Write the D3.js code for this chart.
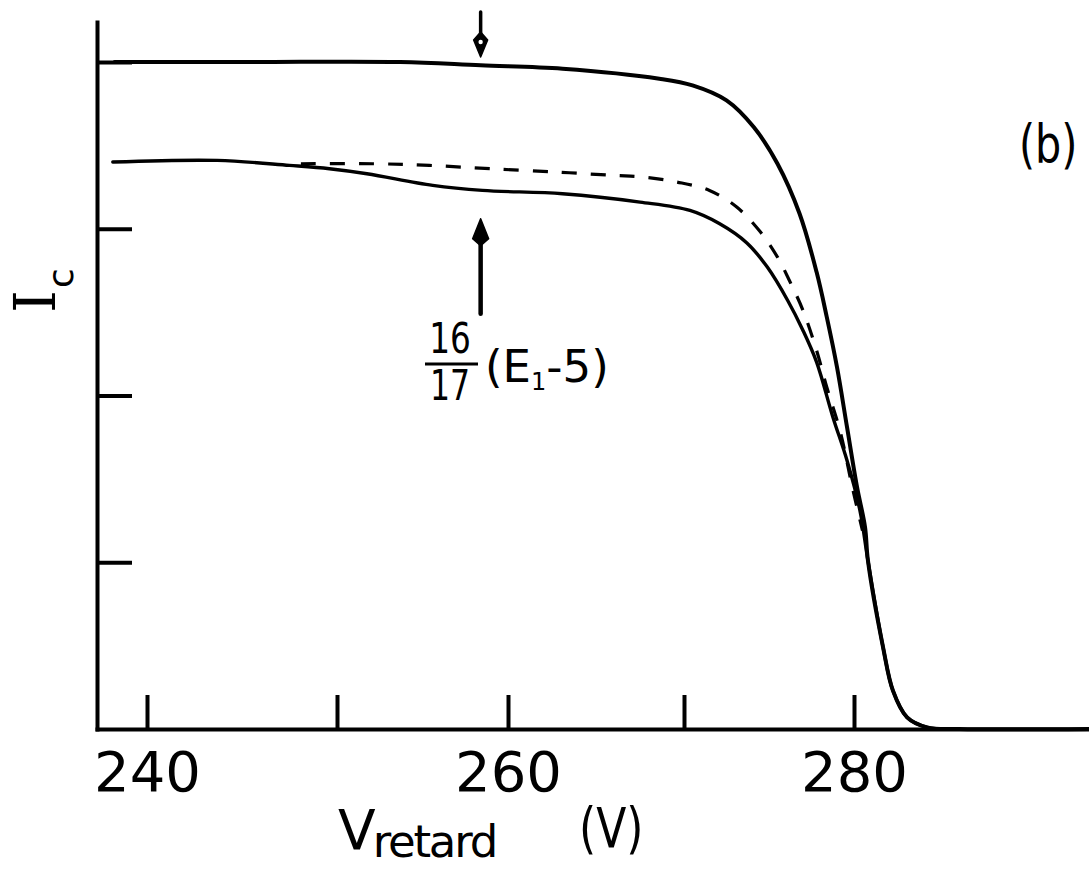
<!DOCTYPE html>
<html><head><meta charset="utf-8">
<script src="https://cdn.jsdelivr.net/npm/d3@7"></script>
<style>html,body{margin:0;padding:0;background:#fff;} svg{display:block;}</style>
</head><body>
<svg id="chart" width="1089" height="869"></svg>
<script>
// ---- data ----
const xTickValues = [240, 250, 260, 270, 280];
const xTickLabels = ["240", "", "260", "", "280"];
const yTickValues = [1, 2, 3, 4];

const upperV = [238.3, 245.4, 253.7, 258.4, 263.1, 268.6, 270.5, 272.5, 274.1, 275.5, 276.8, 277.8, 278.4, 279.0, 279.59, 280.18, 280.65, 280.82, 281.71, 282.29, 283.12, 284.3, 286.2, 293.8];
const upperI = [4.00, 4.00, 4.00, 3.98, 3.96, 3.90, 3.86, 3.77, 3.61, 3.39, 3.09, 2.74, 2.47, 2.17, 1.81, 1.45, 1.21, 1.01, 0.49, 0.23, 0.07, 0.01, 0.00, 0.00];

const lowerV = [238.2, 243.7, 247.5, 249.6, 251.75, 255.6, 258.5, 263.1, 267.5, 270.35, 272.1, 273.7, 274.9, 276.1, 277.0, 277.8, 278.76, 279.59, 280.35, 280.82, 281.71, 282.29, 283.12, 284.3, 286.2];
const lowerI = [3.40, 3.41, 3.38, 3.36, 3.33, 3.26, 3.23, 3.21, 3.16, 3.11, 3.03, 2.915, 2.77, 2.57, 2.39, 2.20, 1.87, 1.61, 1.31, 1.01, 0.49, 0.23, 0.07, 0.01, 0.00];

const dashedV = [248.1, 252.1, 255.4, 258.95, 262.8, 266.0, 267.7, 269.6, 271.5, 273.1, 274.5, 275.5, 276.2, 277.0, 277.8, 278.4, 279.2, 279.9, 280.5];
const dashedI = [3.39, 3.39, 3.38, 3.36, 3.34, 3.32, 3.31, 3.28, 3.23, 3.13, 2.98, 2.83, 2.69, 2.51, 2.27, 2.05, 1.78, 1.45, 1.19];

// annotation arrows (data units)
const arrowV = 258.4;
const downArrowI = [4.30, 4.03]; // tail, tip
const upArrowI = [2.49, 3.06];   // tail, tip

// ---- drawing ----
const svg = d3.select("#chart");
svg.append("rect").attr("width", 1089).attr("height", 869).attr("fill", "#fff");

const x = d3.scaleLinear()
  .domain([237.37, 240, 250, 260, 270, 280, 293.82])
  .range([97, 147, 337, 508, 684, 854, 1089]);
const y = d3.scaleLinear().domain([0, 4.24]).range([729, 22]);

const FONT = "'DejaVu Sans', sans-serif";

// x axis
const gx = svg.append("g").attr("transform", `translate(0,${y(0)})`)
  .call(d3.axisBottom(x).tickValues(xTickValues)
    .tickFormat((d, i) => xTickLabels[i])
    .tickSize(-34).tickSizeOuter(0).tickPadding(22));
gx.select(".domain").attr("stroke", "#000").attr("stroke-width", 4).attr("stroke-linecap", "square");
gx.selectAll(".tick line").attr("stroke", "#000").attr("stroke-width", 4);
gx.selectAll(".tick text").attr("font-family", FONT).attr("font-size", 56).attr("fill", "#000");

// y axis
const gy = svg.append("g").attr("transform", `translate(${x(237.37)},0)`)
  .call(d3.axisLeft(y).tickValues(yTickValues).tickFormat("")
    .tickSize(-35).tickSizeOuter(0));
gy.select(".domain").attr("stroke", "#000").attr("stroke-width", 4).attr("stroke-linecap", "square");
gy.selectAll(".tick line").attr("stroke", "#000").attr("stroke-width", 4);

// curves
const line = d3.line().x(d => x(d[0])).y(d => y(d[1])).curve(d3.curveCatmullRom.alpha(0.5));
const zip = (a, b) => a.map((v, i) => [v, b[i]]);

svg.append("path").attr("d", line(zip(dashedV, dashedI)))
  .attr("fill", "none").attr("stroke", "#000").attr("stroke-width", 3.2)
  .attr("stroke-dasharray", "15,14");
svg.append("path").attr("d", line(zip(lowerV, lowerI)))
  .attr("fill", "none").attr("stroke", "#000").attr("stroke-width", 3.4)
  .attr("stroke-linejoin", "round").attr("stroke-linecap", "round");
svg.append("path").attr("d", line(zip(upperV, upperI)))
  .attr("fill", "none").attr("stroke", "#000").attr("stroke-width", 4)
  .attr("stroke-linejoin", "round").attr("stroke-linecap", "round");

// arrows
const ax = x(arrowV);
{
  const tail = y(downArrowI[0]), tip = y(downArrowI[1]);
  svg.append("line").attr("x1", ax).attr("x2", ax).attr("y1", tail).attr("y2", tip - 22)
    .attr("stroke", "#000").attr("stroke-width", 3.5).attr("stroke-linecap", "round");
  svg.append("path")
    .attr("d", `M${ax},${tip} L${ax - 7},${tip - 17} L${ax},${tip - 25} L${ax + 7},${tip - 17} Z`)
    .attr("fill", "#000").attr("stroke", "#000").attr("stroke-width", 1.5).attr("stroke-linejoin", "round");
  svg.append("circle").attr("cx", ax).attr("cy", tip - 15).attr("r", 2.2).attr("fill", "#fff");
}
{
  const tail = y(upArrowI[0]), tip = y(upArrowI[1]);
  svg.append("line").attr("x1", ax).attr("x2", ax).attr("y1", tail).attr("y2", tip + 20)
    .attr("stroke", "#000").attr("stroke-width", 4.5).attr("stroke-linecap", "round");
  svg.append("path")
    .attr("d", `M${ax},${tip} L${ax - 8},${tip + 20} L${ax},${tip + 27} L${ax + 8},${tip + 20} Z`)
    .attr("fill", "#000").attr("stroke", "#000").attr("stroke-width", 1.5).attr("stroke-linejoin", "round");
}

// helper for horizontally condensed text
function label(txt, px, py, size, sx, anchor) {
  return svg.append("text")
    .attr("transform", `translate(${px},${py}) scale(${sx},1)`)
    .attr("text-anchor", anchor || "start")
    .attr("font-family", FONT).attr("font-size", size).attr("fill", "#000").text(txt);
}

// annotation text
label("16", 450, 353, 42, 0.78, "middle");
svg.append("line").attr("x1", 425).attr("x2", 478).attr("y1", 364).attr("y2", 364)
  .attr("stroke", "#000").attr("stroke-width", 3);
label("17", 450, 400, 42, 0.75, "middle");
{
  const t = svg.append("text").attr("x", 485).attr("y", 382)
    .attr("font-family", FONT).attr("font-size", 45).attr("fill", "#000");
  t.append("tspan").text("(E");
  t.append("tspan").attr("font-size", 24).attr("dy", 8).text("1");
  t.append("tspan").attr("dy", -8).text("-5)");
}

// (b)
label("(b)", 1019, 163, 53, 0.78);

// x axis title
{
  const t = svg.append("text").attr("x", 338).attr("y", 849)
    .attr("font-family", FONT).attr("font-size", 55).attr("fill", "#000");
  t.append("tspan").text("V");
  t.append("tspan").attr("font-size", 45).attr("dy", 8).attr("dx", -3)
    .attr("letter-spacing", -2.2).text("retard");
}
label("(V)", 579, 847, 55, 0.8);

// y axis title
{
  const t = svg.append("text").attr("transform", "translate(55,313) rotate(-90)")
    .attr("font-family", "'DejaVu Serif', serif").attr("font-size", 58);
  t.append("tspan").text("I");
  t.append("tspan").attr("font-family", FONT).attr("font-size", 36).attr("dy", 18).attr("dx", 2).text("c");
}
</script>
</body></html>
